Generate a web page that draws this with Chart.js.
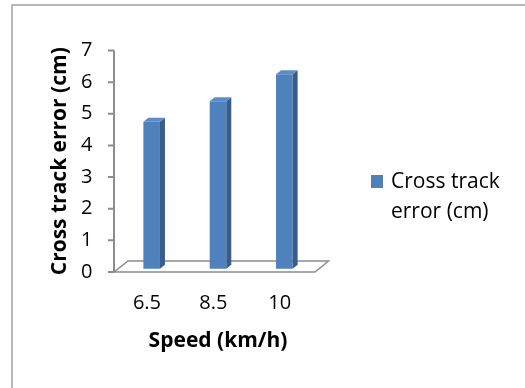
<!DOCTYPE html>
<html>
<head>
<meta charset="utf-8">
<script src="https://cdn.jsdelivr.net/npm/chart.js@4.4.1/dist/chart.umd.min.js"></script>
<style>
    html, body { margin: 0; padding: 0; background: #fff; }
    canvas { display: block; }
</style>
</head>
<body>
<canvas id="chart" width="525" height="388"></canvas>
<script>
const speedLabels = ['6.5', '8.5', '10'];
const crossTrackError = [4.75, 5.4, 6.25];
const yTicks = [0, 1, 2, 3, 4, 5, 6, 7];

const seriesName = 'Cross track error (cm)';
const legendLines = ['Cross track', 'error (cm)'];

const FONT = "'Open Sans', sans-serif";
const FRONT = '#4f81bd';
const SIDE = '#385d8a';
const TOP = '#5b8cc7';
const AXIS = '#8c8c8c';

// frame, floor and y axis drawn behind the bars
const backdrop = {
    id: 'backdrop',
    beforeDatasetsDraw(chart) {
        const { ctx, chartArea, scales } = chart;
        const y = scales.y;
        const y0 = y.getPixelForValue(0);
        const axisX = chartArea.left - 4.5;

        ctx.save();
        // outer frame (left and top only visible)
        ctx.strokeStyle = '#b8b8b8';
        ctx.lineWidth = 2;
        ctx.beginPath();
        ctx.moveTo(12, 388);
        ctx.lineTo(12, 5);
        ctx.lineTo(525, 5);
        ctx.stroke();

        // floor
        ctx.strokeStyle = AXIS;
        ctx.lineWidth = 1.5;
        ctx.beginPath();
        ctx.moveTo(axisX, y0);
        ctx.lineTo(chartArea.right - 2.5, y0);
        ctx.lineTo(chartArea.right + 11, y0 - 11);
        ctx.lineTo(axisX + 14, y0 - 11);
        ctx.closePath();
        ctx.stroke();

        // value axis with outside ticks
        ctx.lineWidth = 2;
        ctx.beginPath();
        ctx.moveTo(axisX, y.getPixelForValue(yTicks[yTicks.length - 1]));
        ctx.lineTo(axisX, y0);
        yTicks.forEach(v => {
            const py = y.getPixelForValue(v);
            ctx.moveTo(axisX - 6, py);
            ctx.lineTo(axisX, py);
        });
        ctx.stroke();
        ctx.restore();
    }
};

// side and top faces of each column
const columns3d = {
    id: 'columns3d',
    afterDatasetsDraw(chart) {
        const { ctx } = chart;
        const dx = 5, dy = -4;
        chart.getDatasetMeta(0).data.forEach(bar => {
            const { x, y, base, width } = bar.getProps(['x', 'y', 'base', 'width'], true);
            const l = x - width / 2, r = x + width / 2;
            ctx.save();
            ctx.fillStyle = SIDE;
            ctx.beginPath();
            ctx.moveTo(r, y);
            ctx.lineTo(r + dx, y + dy);
            ctx.lineTo(r + dx, base + dy);
            ctx.lineTo(r, base);
            ctx.closePath();
            ctx.fill();
            ctx.fillStyle = TOP;
            ctx.beginPath();
            ctx.moveTo(l, y);
            ctx.lineTo(l + dx, y + dy);
            ctx.lineTo(r + dx, y + dy);
            ctx.lineTo(r, y);
            ctx.closePath();
            ctx.fill();
            ctx.restore();
        });
    }
};

// legend on the right, label wrapped on two lines
const sideLegend = {
    id: 'sideLegend',
    afterDraw(chart) {
        const { ctx } = chart;
        ctx.save();
        ctx.fillStyle = FRONT;
        ctx.fillRect(371, 175, 12, 13);
        ctx.fillStyle = '#000';
        ctx.font = '21px ' + FONT;
        ctx.textBaseline = 'middle';
        ctx.textAlign = 'left';
        legendLines.forEach((line, i) => {
            ctx.fillText(line, 391, 182 + i * 30);
        });
        ctx.restore();
    }
};

new Chart(document.getElementById('chart'), {
    type: 'bar',
    data: {
        labels: speedLabels,
        datasets: [{
            label: seriesName,
            data: crossTrackError,
            backgroundColor: FRONT,
            borderWidth: 0,
            base: 0.1,
            categoryPercentage: 1,
            barPercentage: 0.25
        }]
    },
    options: {
        responsive: false,
        devicePixelRatio: 1,
        animation: false,
        layout: {
            padding: { left: 0, right: 207.5, top: 50.5, bottom: 0 }
        },
        plugins: {
            legend: { display: false },
            tooltip: { enabled: false }
        },
        scales: {
            x: {
                grid: { display: false, drawTicks: false },
                border: { display: false },
                ticks: {
                    color: '#000',
                    font: { family: FONT, size: 20 },
                    labelOffset: -4.7,
                    padding: 19,
                    maxRotation: 0
                },
                title: {
                    display: true,
                    text: 'Speed (km/h)',
                    color: '#000',
                    font: { family: FONT, size: 21, weight: 'bold' },
                    padding: { top: 0, bottom: 34 }
                },
                afterFit(scale) { scale.height = 116; }
            },
            y: {
                min: 0,
                max: 7,
                grid: { display: false, drawTicks: false },
                border: { display: false },
                afterBuildTicks(scale) {
                    scale.ticks = yTicks.map(v => ({ value: v }));
                },
                ticks: {
                    color: '#000',
                    font: { family: FONT, size: 20 },
                    padding: 26
                },
                title: {
                    display: true,
                    text: seriesName,
                    color: '#000',
                    font: { family: FONT, size: 21, weight: 'bold' },
                    padding: { top: 47, bottom: 0 }
                },
                afterFit(scale) { scale.width = 118.5; }
            }
        }
    },
    plugins: [backdrop, columns3d, sideLegend]
});
</script>
</body>
</html>
